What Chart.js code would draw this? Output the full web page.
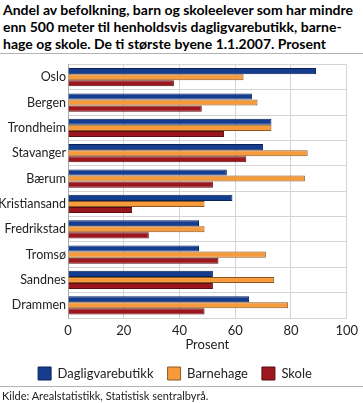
<!DOCTYPE html>
<html>
<head>
<meta charset="utf-8">
<script src="https://cdn.jsdelivr.net/npm/chart.js@4/dist/chart.umd.min.js"></script>
<style>
body { margin:0; background:#fff; font-family:Lato, sans-serif; width:363px; height:403px; overflow:hidden; }
#title { position:absolute; left:3px; top:1px; width:362px; font-size:14px; font-weight:bold; line-height:17px; color:#000; white-space:nowrap; }
#line1 { position:absolute; left:0; top:53px; width:363px; border-top:1px solid #b3b3b3; }
#wrap { position:absolute; left:0; top:55px; width:363px; height:335px; }
#line2 { position:absolute; left:0; top:386px; width:363px; border-top:1px solid #b3b3b3; }
#src { position:absolute; left:2px; top:389px; font-size:11px; color:#222; }
</style>
</head>
<body>
<div id="title">Andel av befolkning, barn og skoleelever som har mindre<br>enn 500 meter til henholdsvis dagligvarebutikk, barne-<br>hage og skole. De ti største byene 1.1.2007. Prosent</div>
<div id="line1"></div>
<div id="wrap"><canvas id="canvas"></canvas></div>
<div id="line2"></div>
<div id="src">Kilde: Arealstatistikk, Statistisk sentralbyrå.</div>
<script>
var cities = ["Oslo","Bergen","Trondheim","Stavanger","Bærum","Kristiansand","Fredrikstad","Tromsø","Sandnes","Drammen"];
var dagligvare = [89,66,73,70,57,59,47,47,52,65];
var barnehage = [63,68,73,86,85,49,49,71,74,79];
var skole = [38,48,56,64,52,23,29,54,52,49];
var ticks = [0,20,40,60,80,100];

var fnt = { family: "Lato", size: 13 };

var config = {
	type: 'bar',
	data: {
		labels: cities,
		datasets: [{
			label: "Dagligvarebutikk",
			data: dagligvare,
			backgroundColor: "#143c8f",
			borderColor: "#0a2258",
			borderWidth: 1
		},{
			label: "Barnehage",
			data: barnehage,
			backgroundColor: "#f69a3b",
			borderColor: "#8a5a22",
			borderWidth: 1
		},{
			label: "Skole",
			data: skole,
			backgroundColor: "#9b171d",
			borderColor: "#5a0c10",
			borderWidth: 1
		}]
	},
	options: {
		indexAxis: 'y',
		responsive: true,
		maintainAspectRatio: false,
		animation: false,
		datasets: { bar: { categoryPercentage: 0.72, barPercentage: 1.0 } },
		layout: { padding: { left: 0, right: 13, top: 7, bottom: 0 } },
		scales: {
			x: {
				min: 0, max: 100,
				afterBuildTicks: function(axis) { axis.ticks = ticks.map(function(v){ return {value: v}; }); },
				afterFit: function(axis) { axis.height = 35; },
				grid: { color: "#d4d4d4", drawTicks: false },
				border: { display: false },
				ticks: { color: "#222", font: fnt, padding: 5 },
				title: { display: true, text: "Prosent", color: "#222", font: fnt, padding: { top: 0, bottom: 0 } }
			},
			y: {
				afterFit: function(axis) { axis.width = 68; },
				grid: { color: "#d4d4d4", drawTicks: false, offset: true },
				border: { display: true, color: "#aaa" },
				ticks: { color: "#222", font: { family: "Lato", size: 12.5 }, padding: 2 }
			}
		},
		plugins: {
			legend: {
				position: 'bottom',
				labels: { boxWidth: 13, boxHeight: 13, padding: 14, color: "#222", font: fnt }
			},
			tooltip: { enabled: false }
		}
	}
};

var myChart = new Chart(document.getElementById("canvas"), config);
</script>
</body>
</html>
